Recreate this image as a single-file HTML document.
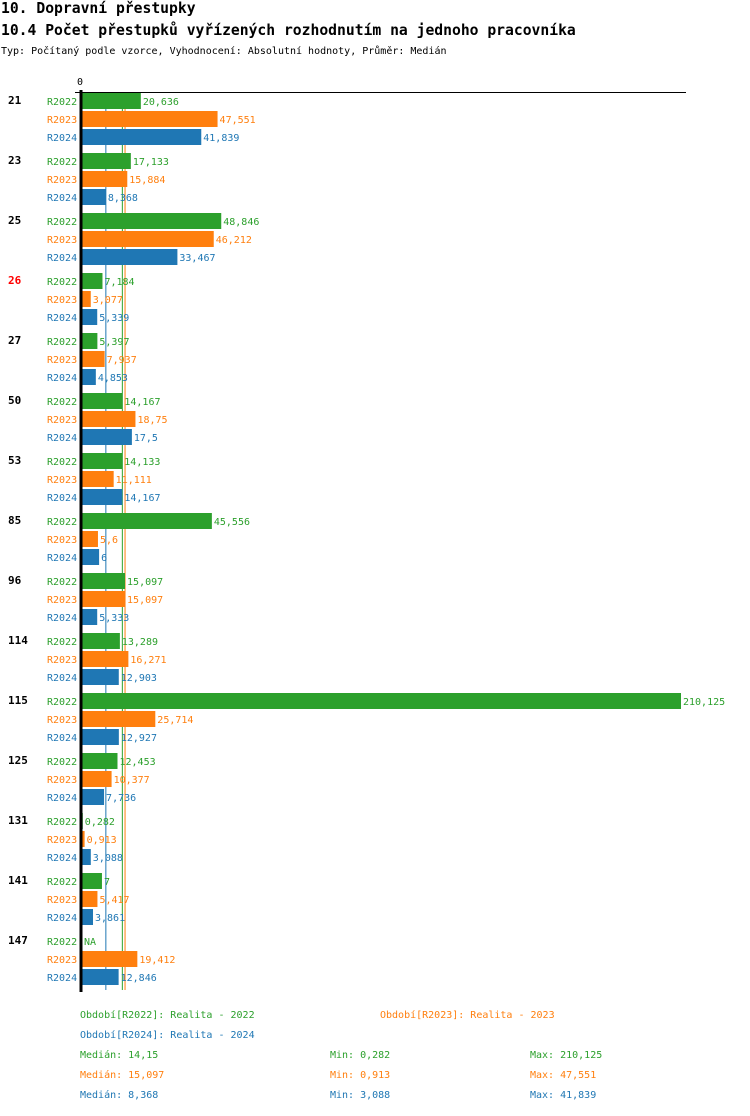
<!DOCTYPE html>
<html><head><meta charset="utf-8"><style>
body{margin:0;background:#fff;width:750px;height:1112px;overflow:hidden;font-family:"DejaVu Sans Mono","Liberation Mono",monospace;}
svg text{font-family:"DejaVu Sans Mono","Liberation Mono",monospace;}
</style></head><body>
<svg id="c" width="750" height="1112" xmlns="http://www.w3.org/2000/svg">
<text x="1" y="13" font-size="14.7" font-weight="bold">10. Dopravní přestupky</text>
<text x="1" y="35" font-size="14.7" font-weight="bold">10.4 Počet přestupků vyřízených rozhodnutím na jednoho pracovníka</text>
<text x="1" y="54" font-size="10">Typ: Počítaný podle vzorce, Vyhodnocení: Absolutní hodnoty, Průměr: Medián</text>
<g id="plot"></g>
<g id="foot" font-size="10"></g>
</svg>
<script>
const categories=["21","23","25","26","27","50","53","85","96","114","115","125","131","141","147"];
const series=["R2022","R2023","R2024"];
const r2022=[20.636,17.133,48.846,7.184,5.397,14.167,14.133,45.556,15.097,13.289,210.125,12.453,0.282,7,null];
const r2023=[47.551,15.884,46.212,3.077,7.937,18.75,11.111,5.6,15.097,16.271,25.714,10.377,0.913,5.417,19.412];
const r2024=[41.839,8.368,33.467,5.339,4.853,17.5,14.167,6,5.333,12.903,12.927,7.736,3.088,3.861,12.846];
const medians=[14.15,15.097,8.368];
const mins=[0.282,0.913,3.088];
const maxs=[210.125,47.551,41.839];
const labels=["Realita - 2022","Realita - 2023","Realita - 2024"];
const colors=["#2ca02c","#ff7f0e","#1f77b4"];
const NS="http://www.w3.org/2000/svg";
const x0=82,xMax=210.125,xW=599;
const xs=v=>x0+v/xMax*xW;
const gy=i=>92+i*60;
const fmt=v=>String(v).replace('.',',');
const plot=document.getElementById('plot');
function mk(t,a,p){const e=document.createElementNS(NS,t);for(const k in a)e.setAttribute(k,a[k]);(p||plot).appendChild(e);return e;}
const data=[r2022,r2023,r2024];
medians.forEach((m,s)=>{const l=mk('line',{x1:xs(m),x2:xs(m),y1:92,y2:990,stroke:colors[s],'stroke-width':1});

});
categories.forEach((c,i)=>{
 const t=mk('text',{x:8,y:gy(i)+12,'font-size':11,'font-weight':'bold',fill:c==="26"?"#ff0000":"#000"});t.textContent=c;
 
 
 series.forEach((s,j)=>{
  const y=gy(i)+1+j*18;const v=data[j][i];
  const lt=mk('text',{x:47,y:y+12,'font-size':10,fill:colors[j]});lt.textContent=s;
  
  
  if(v!==null){const r=mk('rect',{x:x0,y:y,width:xs(v)-x0,height:16,fill:colors[j]});
   
   }
  const vt=mk('text',{x:(v===null?x0:xs(v))+2,y:y+12,'font-size':10,fill:colors[j]});vt.textContent=v===null?"NA":fmt(v);
  
  
 });
});
const yAxis=mk('line',{x1:81,x2:81,y1:90,y2:992,stroke:'#000','stroke-width':3});


const xAxis=mk('line',{x1:75,x2:686,y1:92.5,y2:92.5,stroke:'#000','stroke-width':1});


const zeroTick=mk('text',{x:77,y:85,'font-size':10});zeroTick.textContent="0";


const foot=document.getElementById('foot');
const legPos=[[80,1018],[380,1018],[80,1038]];
series.forEach((s,j)=>{const t=mk('text',{x:legPos[j][0],y:legPos[j][1],fill:colors[j]},foot);t.textContent="Období["+s+"]: "+labels[j];
 
 
 const y=1058+j*20;
 const a=mk('text',{x:80,y:y,fill:colors[j]},foot);a.textContent="Medián: "+fmt(medians[j]);
 
 
 const b=mk('text',{x:330,y:y,fill:colors[j]},foot);b.textContent="Min: "+fmt(mins[j]);
 
 
 const d=mk('text',{x:530,y:y,fill:colors[j]},foot);d.textContent="Max: "+fmt(maxs[j]);
 
 
});
</script>
</body></html>
